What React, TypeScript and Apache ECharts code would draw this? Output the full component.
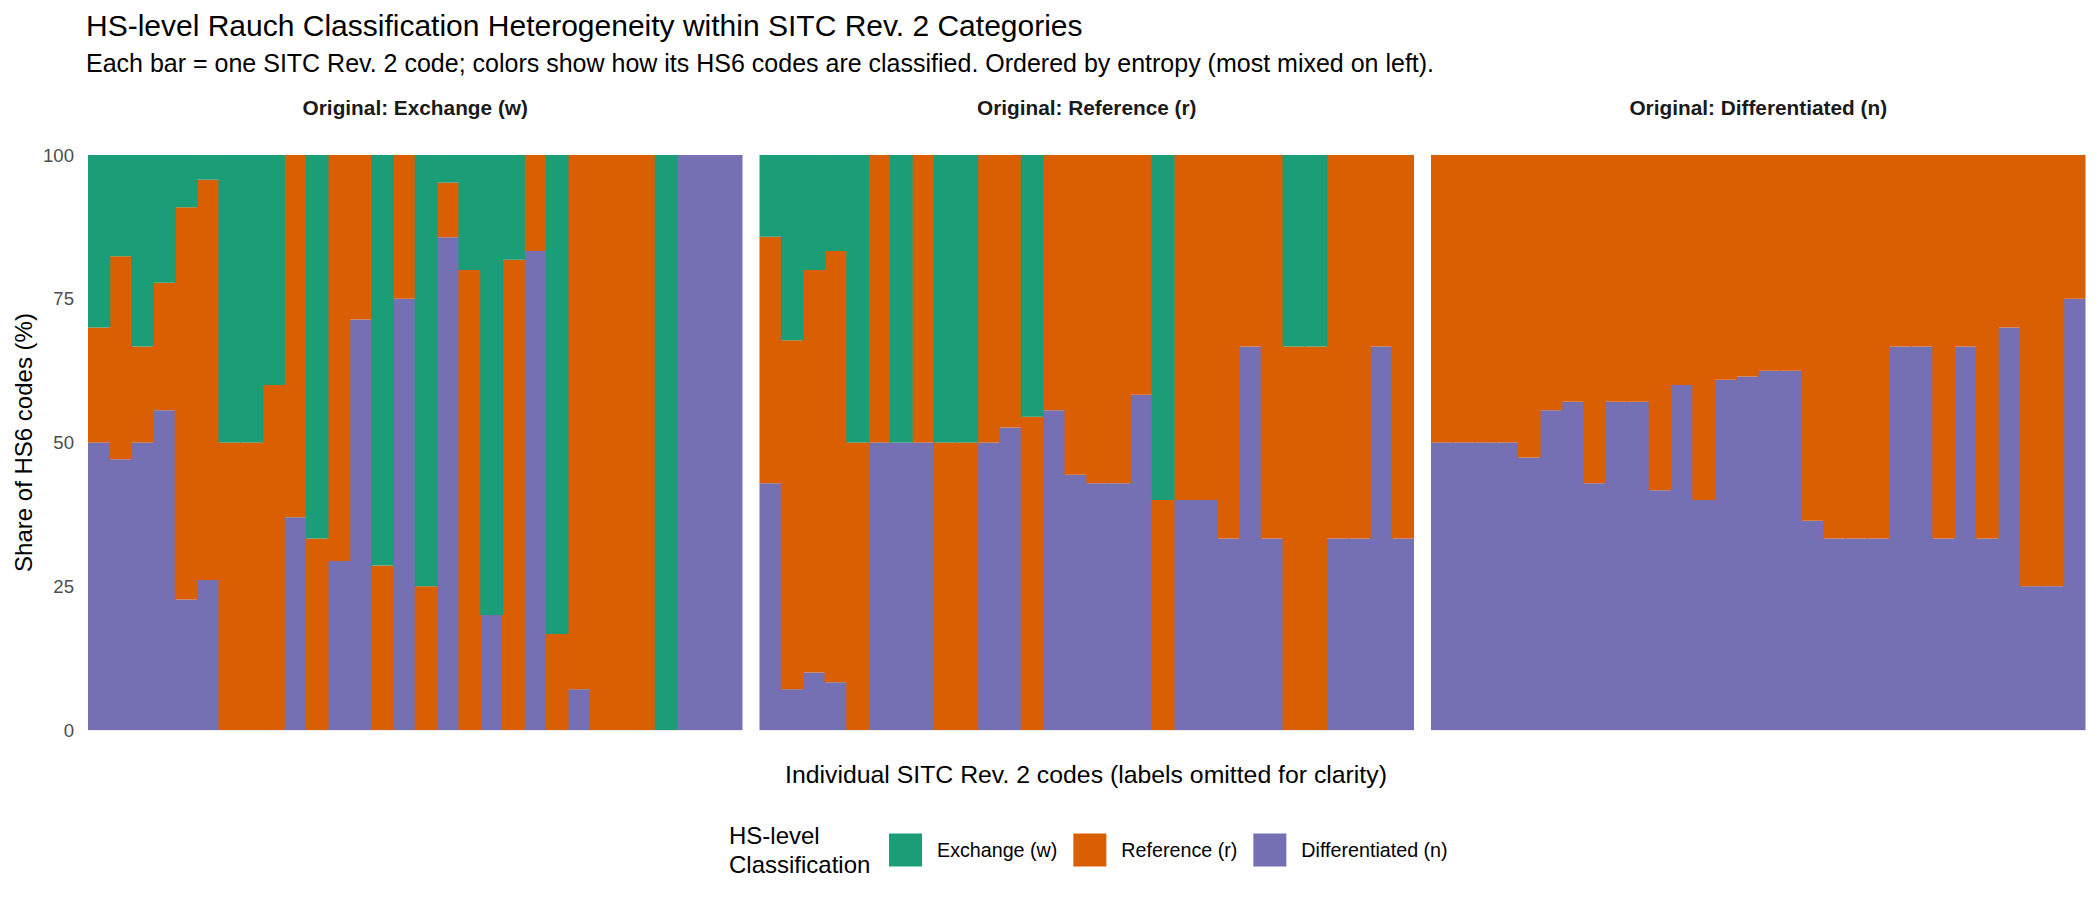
// HS-level Rauch classification mix within SITC Rev. 2 codes: three facets of 100% stacked bars
import { useEffect, useRef } from "react";
import * as echarts from "echarts";

const FONT = '"Liberation Sans", Arial, Helvetica, sans-serif';
const GREEN = "#1B9E77";
const ORANGE = "#D95F02";
const PURPLE = "#7570B3";

const classNames = ["Exchange (w)", "Reference (r)", "Differentiated (n)"];
const facetTitles = [
  "Original: Exchange (w)",
  "Original: Reference (r)",
  "Original: Differentiated (n)",
];
const yTicks = [0, 25, 50, 75, 100];

// one entry per SITC code, ordered by entropy; labels are hidden in the chart
const codesW = Array.from({ length: 30 }, (_, i) => `w${i + 1}`);
const codesR = Array.from({ length: 30 }, (_, i) => `r${i + 1}`);
const codesN = Array.from({ length: 30 }, (_, i) => `n${i + 1}`);

// facet 1: originally Exchange (w) — shares in %
const wExchange = [30, 17.6, 33.3, 22.2, 9.1, 4.3, 50, 50, 40, 0, 66.7, 0, 0, 71.4, 0, 75, 4.8, 20, 80, 18.2, 0, 83.3, 0, 0, 0, 0, 100, 0, 0, 0];
const wReference = [20, 35.3, 16.7, 22.2, 68.2, 69.6, 50, 50, 60, 63, 33.3, 70.6, 28.6, 28.6, 25, 25, 9.5, 80, 0, 81.8, 16.7, 16.7, 92.9, 100, 100, 100, 0, 0, 0, 0];
const wDifferentiated = [50, 47.1, 50, 55.6, 22.7, 26.1, 0, 0, 0, 37, 0, 29.4, 71.4, 0, 75, 0, 85.7, 0, 20, 0, 83.3, 0, 7.1, 0, 0, 0, 0, 100, 100, 100];

// facet 2: originally Reference (r)
const rExchange = [14.2, 32.2, 20, 16.7, 50, 0, 50, 0, 50, 50, 0, 0, 45.5, 0, 0, 0, 0, 0, 60, 0, 0, 0, 0, 0, 33.3, 33.3, 0, 0, 0, 0];
const rReference = [42.9, 60.7, 70, 75, 50, 50, 0, 50, 50, 50, 50, 47.4, 54.5, 44.4, 55.6, 57.1, 57.1, 41.7, 40, 60, 60, 66.7, 33.3, 66.7, 66.7, 66.7, 66.7, 66.7, 33.3, 66.7];
const rDifferentiated = [42.9, 7.1, 10, 8.3, 0, 50, 50, 50, 0, 0, 50, 52.6, 0, 55.6, 44.4, 42.9, 42.9, 58.3, 0, 40, 40, 33.3, 66.7, 33.3, 0, 0, 33.3, 33.3, 66.7, 33.3];

// facet 3: originally Differentiated (n)
const nExchange = [0, 0, 0, 0, 0, 0, 0, 0, 0, 0, 0, 0, 0, 0, 0, 0, 0, 0, 0, 0, 0, 0, 0, 0, 0, 0, 0, 0, 0, 0];
const nReference = [50, 50, 50, 50, 52.6, 44.4, 42.9, 57.1, 42.9, 42.9, 58.3, 40, 60, 39.1, 38.5, 37.5, 37.5, 63.6, 66.7, 66.7, 66.7, 33.3, 33.3, 66.7, 33.3, 66.7, 30, 75, 75, 25];
const nDifferentiated = [50, 50, 50, 50, 47.4, 55.6, 57.1, 42.9, 57.1, 57.1, 41.7, 60, 40, 60.9, 61.5, 62.5, 62.5, 36.4, 33.3, 33.3, 33.3, 66.7, 66.7, 33.3, 66.7, 33.3, 70, 25, 25, 75];

const facets = [
  { codes: codesW, w: wExchange, r: wReference, n: wDifferentiated },
  { codes: codesR, w: rExchange, r: rReference, n: rDifferentiated },
  { codes: codesN, w: nExchange, r: nReference, n: nDifferentiated },
];

const PANEL_LEFT = [88, 759.5, 1431];
const PANEL_W = 654.5;
const PANEL_TOP = 155;
const PANEL_H = 575;
// bars are one pixel wider than their band so neighbours overlap and no seams show
const BAR_W = PANEL_W / 30 + 1;

function barSeries(name: string, color: string, data: number[], idx: number) {
  return {
    name,
    type: "bar",
    stack: `facet${idx}`,
    xAxisIndex: idx,
    yAxisIndex: idx,
    barWidth: BAR_W,
    barGap: "0%",
    data,
    itemStyle: { color, borderWidth: 0 },
    emphasis: { disabled: true },
  };
}

export default function App() {
  const ref = useRef<HTMLDivElement>(null);

  useEffect(() => {
    document.body.style.margin = "0";
    if (!ref.current) return;
    const chart = echarts.init(ref.current, undefined, { renderer: "svg" });

    const series: any[] = [];
    facets.forEach((f, i) => {
      series.push(barSeries(classNames[2], PURPLE, f.n, i));
      series.push(barSeries(classNames[1], ORANGE, f.r, i));
      series.push(barSeries(classNames[0], GREEN, f.w, i));
    });

    const txt = (text: string, x: number, y: number, size: number, extra: any = {}) => ({
      type: "text",
      x,
      y,
      silent: true,
      ...extra,
      style: {
        text,
        fontFamily: FONT,
        fontSize: size,
        fill: "#000",
        textVerticalAlign: "middle",
        ...(extra.style || {}),
      },
    });

    chart.setOption({
      animation: false,
      textStyle: { fontFamily: FONT },
      grid: PANEL_LEFT.map((left) => ({
        left,
        top: PANEL_TOP,
        width: PANEL_W,
        height: PANEL_H,
        containLabel: false,
      })),
      xAxis: facets.map((f, i) => ({
        type: "category",
        gridIndex: i,
        data: f.codes,
        axisLine: { show: false },
        axisTick: { show: false },
        axisLabel: { show: false },
        splitLine: { show: false },
      })),
      yAxis: facets.map((_, i) => ({
        type: "value",
        gridIndex: i,
        min: 0,
        max: 100,
        interval: 25,
        axisLine: { show: false },
        axisTick: { show: false },
        axisLabel: {
          show: i === 0,
          color: "#4D4D4D",
          fontSize: 18.6,
          margin: 14,
          fontFamily: FONT,
          formatter: (v: number) => (yTicks.includes(v) ? String(v) : ""),
        },
        splitLine: { lineStyle: { color: "#EBEBEB", width: 1 } },
      })),
      legend: {
        data: classNames,
        left: 889,
        top: 833.5,
        padding: 0,
        orient: "horizontal",
        icon: "rect",
        itemWidth: 33,
        itemHeight: 33,
        itemGap: 16,
        selectedMode: false,
        textStyle: {
          fontFamily: FONT,
          fontSize: 19.7,
          color: "#000",
          padding: [0, 0, 0, 10],
        },
      },
      graphic: [
        txt("HS-level Rauch Classification Heterogeneity within SITC Rev. 2 Categories", 86, 25, 30),
        txt(
          "Each bar = one SITC Rev. 2 code; colors show how its HS6 codes are classified. Ordered by entropy (most mixed on left).",
          86,
          63,
          25
        ),
        ...facetTitles.map((t, i) =>
          txt(t, PANEL_LEFT[i] + PANEL_W / 2, 107, 20.8, {
            style: { textAlign: "center", fontWeight: "bold", fill: "#1A1A1A" },
          })
        ),
        txt("Individual SITC Rev. 2 codes (labels omitted for clarity)", 1086, 774, 24.8, {
          style: { textAlign: "center" },
        }),
        txt("Share of HS6 codes (%)", 23, PANEL_TOP + PANEL_H / 2, 24, {
          rotation: Math.PI / 2,
          style: { textAlign: "center" },
        }),
        txt("HS-level\nClassification", 729, 850, 24, {
          style: { lineHeight: 29 },
        }),
      ],
      series,
    });

    return () => {
      chart.dispose();
    };
  }, []);

  return <div ref={ref} style={{ width: 2100, height: 900 }} />;
}
